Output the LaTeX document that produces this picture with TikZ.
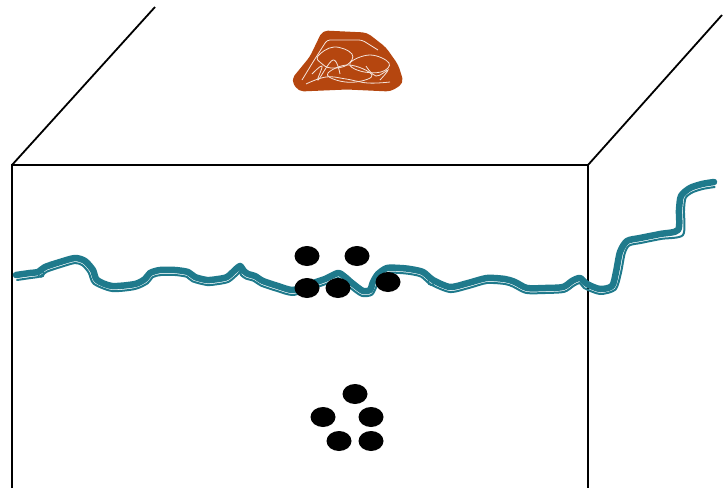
\documentclass[tikz,border=0pt]{standalone}
\begin{document}
\definecolor{river}{RGB}{31,122,140}
\definecolor{clay}{RGB}{181,70,15}
\begin{tikzpicture}[x=1pt,y=-1pt,
  edge/.style={black,line width=1.8pt},
  bank/.style={river,line width=6.5pt,line cap=round,line join=round},
  shore/.style={river,line width=2pt,line cap=round,line join=round},
  pebble/.style={black},
  scribble/.style={white!85!clay,line width=0.8pt}]
\useasboundingbox (0,0) rectangle (723,488);

% block outline
\draw[edge] (12,488) -- (12,165) -- (588,165) -- (588,488);
\draw[edge] (12,165) -- (155,7);
\draw[edge] (588,165) -- (722,15);

% river: broad channel
\draw[bank] plot[smooth,tension=0.45] coordinates {
 (16,275) (30,273) (38,272) (45,267) (60,262) (75,258) (85,261) (93,270)
 (97,280) (112,286) (135,284) (145,279) (150,273) (160,270) (175,270)
 (188,272) (195,277) (207,280) (218,279) (227,277) (235,270) (240,266)
 (244,271) (248,274) (255,276) (263,281) (278,286) (293,290) (310,284)
 (325,279) (338,273) (345,277) (352,283) (363,291) (370,290) (373,282)
 (378,274) (387,268) (400,268) (410,269) (423,272) (433,280) (450,287)
 (468,283) (487,278) (505,279) (515,282) (527,288) (545,288) (563,287)
 (572,281) (580,278) (587,284) (600,289) (612,286) (616,272) (620,252)
 (627,241) (640,238) (660,234) (678,230) (679,210) (681,196) (690,188)
 (702,184) (714,182)};
% river: thin bank line
\draw[shore] plot[smooth,tension=0.45] coordinates {
 (17,280) (30.7,278) (40,276.5) (47,271.6) (61.4,266.8) (75,263) (82.4,265.3)
 (88.7,272.6) (93.7,283.7) (112,291) (135,289) (147.6,283.3) (153,277)
 (161,275) (175,275) (186.6,276.8) (192.4,281.3) (207,285) (218.5,284)
 (229,281.6) (238.3,273.7) (240,271) (241,275) (245.8,278.5) (253.6,280.8)
 (261,285.6) (276.6,290.8) (293,295) (311.7,288.7) (327,283.6) (338,278)
 (342,281) (348.7,286.7) (361.6,295.8) (372.2,294.5) (377.6,283.9)
 (381.5,277.5) (388.4,272.8) (400,273) (410,274) (421,276.6) (430.8,284.5)
 (450,292) (469.2,287.9) (487,283) (505,284) (513,286.6) (526,292.9)
 (545,293) (564.4,291.8) (574.2,285.5) (580,283) (584,288) (600,294)
 (615.5,289.5) (620.9,273) (624.6,253.9) (629.2,245.5) (641.2,242.9)
 (661.2,238.9) (683,235) (684,210) (685.6,197.9) (692.6,192.3) (703,188.9)
 (714.7,187)};
% small knots on the channel
\draw[river,line width=1.5pt] (41,274) circle (3);
\draw[river,line width=1.5pt] (431,282) circle (3);

% pebbles at the river
\foreach \px/\py in {307/256, 357/256, 307/288, 338/288, 388/282}
  \fill[pebble] (\px,\py) ellipse (12.5 and 10);
% pebbles below
\foreach \px/\py in {355/394, 323/417, 371/417, 339/441, 371/441}
  \fill[pebble] (\px,\py) ellipse (12.5 and 10);

% clay lump on top
\filldraw[clay,line width=5pt,line join=round,rounded corners=4pt]
  (324,33) -- (366,35) -- (384,49) -- (396,66) -- (401,82) -- (390,89)
  -- (347,87) -- (300,89) -- (294,80) -- (312,58) -- cycle;
% scribbled strokes inside the lump
\draw[scribble,rounded corners=3pt] (302,80) -- (313,62) -- (327,40) -- (362,40) -- (378,50);
\draw[scribble] plot[smooth cycle,tension=0.7] coordinates
 {(318,56) (334,47) (352,54) (347,65) (331,68) (321,63)};
\draw[scribble] plot[smooth cycle,tension=0.7] coordinates
 {(350,63) (370,55) (389,63) (381,72) (360,71)};
\draw[scribble] plot[smooth cycle,tension=0.7] coordinates
 {(328,73) (349,65) (372,75) (356,82) (336,80)};
\draw[scribble] plot[smooth,tension=0.7] coordinates
 {(306,84) (326,77) (346,79) (368,83) (390,82)};
\draw[scribble] plot[smooth,tension=0.7] coordinates
 {(312,74) (322,66) (318,80) (333,60) (340,74)};
\draw[scribble] plot[smooth,tension=0.7] coordinates
 {(366,66) (376,76) (388,70) (380,80)};
\end{tikzpicture}
\end{document}
